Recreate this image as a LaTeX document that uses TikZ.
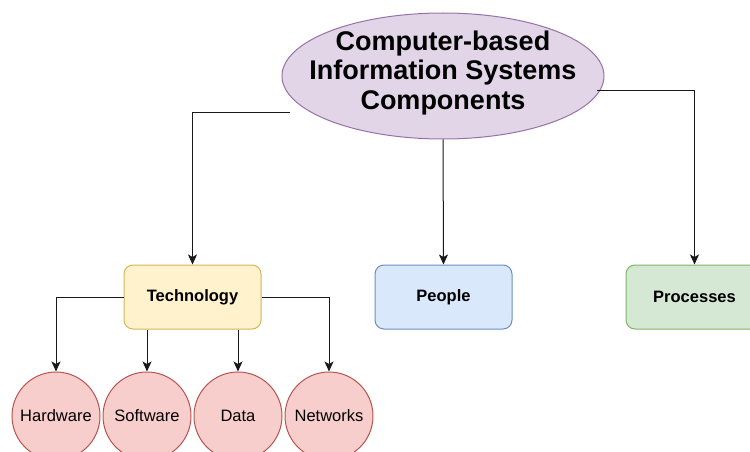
\documentclass[tikz,border=0pt]{standalone}
\usepackage{fontspec}
\setmainfont{Liberation Sans}
\usetikzlibrary{shapes.geometric,arrows.meta}

\definecolor{purpleFill}{HTML}{E1D5E7}
\definecolor{purpleLine}{HTML}{9673A6}
\definecolor{yellowFill}{HTML}{FFF2CC}
\definecolor{yellowLine}{HTML}{D6B656}
\definecolor{blueFill}{HTML}{DAE8FC}
\definecolor{blueLine}{HTML}{6C8EBF}
\definecolor{greenFill}{HTML}{D5E8D4}
\definecolor{greenLine}{HTML}{82B366}
\definecolor{redFill}{HTML}{F8CECC}
\definecolor{redLine}{HTML}{B85450}

\tikzset{
  rootnode/.style={ellipse, draw=purpleLine, fill=purpleFill, line width=1pt,
    minimum width=322pt, minimum height=126pt, inner sep=0pt},
  roottext/.style={align=center, inner sep=0pt,
    font=\fontsize{27}{29.5}\selectfont\bfseries},
  groupbox/.style={rectangle, rounded corners=9pt, line width=1pt,
    minimum width=137pt, minimum height=64pt, inner sep=0pt,
    font=\fontsize{16.5}{19}\selectfont\bfseries},
  techbox/.style={groupbox, draw=yellowLine, fill=yellowFill},
  peoplebox/.style={groupbox, draw=blueLine, fill=blueFill},
  procbox/.style={groupbox, draw=greenLine, fill=greenFill},
  partcircle/.style={circle, draw=redLine, fill=redFill, line width=1pt,
    minimum size=88pt, inner sep=0pt, font=\fontsize{16.5}{19}\selectfont},
  link/.style={draw=black!90, line width=1pt,
    -{Stealth[length=10pt, width=9pt, inset=2.5pt]}}
}

\begin{document}
\begin{tikzpicture}[x=1pt, y=-1pt]
  \useasboundingbox (0,0) rectangle (750,452);

  % top-level concept: ellipse with its title set on top
  \node[rootnode] (root) at (443,76) {};
  \node[roottext] (title) at (443,73)
    {Computer-based\\Information Systems\\Components};

  % three main components
  \node[techbox]   (tech)   at (192.5,297) {Technology};
  \node[peoplebox] (people) at (443.5,297) {People};
  \node[procbox]   (proc)   at (694.5,297) {Processes};

  % parts of the technology component
  \node[partcircle] (hw)   at (56,416)  {Hardware};
  \node[partcircle] (sw)   at (147,416) {Software};
  \node[partcircle] (data) at (238,416) {Data};
  \node[partcircle] (net)  at (329,416) {Networks};

  % connector start points beside the root ellipse
  \coordinate (rootL) at (290,112);
  \coordinate (rootR) at (597,91);

  \draw[link] (rootL) -| (tech);
  \draw[link] (root.south) -- (people.north);
  \draw[link] (rootR) -| (proc);

  \draw[link] (tech.west) -| (hw);
  \draw[link] (tech.south -| sw.north) -- (sw.north);
  \draw[link] (tech.south -| data.north) -- (data.north);
  \draw[link] (tech.east) -| (net);
\end{tikzpicture}
\end{document}
